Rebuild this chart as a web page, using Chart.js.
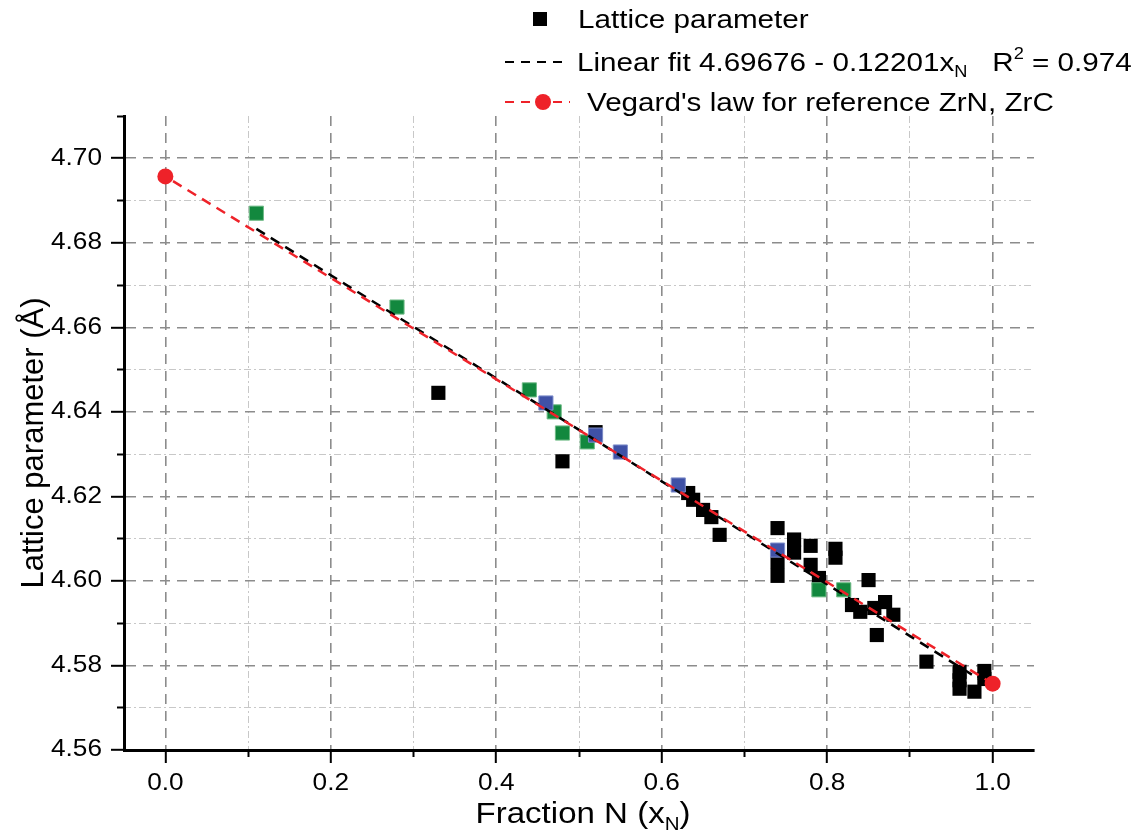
<!DOCTYPE html>
<html>
<head>
<meta charset="utf-8">
<script src="https://cdn.jsdelivr.net/npm/chart.js@4.4.0/dist/chart.umd.min.js"></script>
<style>
  html, body { margin: 0; padding: 0; background: #fff; }
</style>
</head>
<body>
<canvas id="chart" width="1139" height="834"></canvas>
<script>
// measured samples (black = lattice parameter, green / blue = other sample series)
const blackX = [0.33, 0.48, 0.52, 0.632, 0.638, 0.65, 0.66, 0.67, 0.74, 0.74, 0.74, 0.76, 0.76,
  0.78, 0.78, 0.79, 0.81, 0.81, 0.85, 0.83, 0.84, 0.857, 0.87, 0.88, 0.86, 0.92,
  0.96, 0.96, 0.96, 0.978, 0.99, 0.99];
const blackY = [4.6445, 4.6283, 4.6352, 4.6208, 4.6192, 4.6168, 4.6151, 4.6109, 4.6125, 4.6045, 4.6012, 4.6098, 4.6067,
  4.6083, 4.6038, 4.6007, 4.6076, 4.6055, 4.6002, 4.5943, 4.5927, 4.5936, 4.5950, 4.5920, 4.5872, 4.5809,
  4.5785, 4.5765, 4.5745, 4.5738, 4.5787, 4.5768];
const greenX = [0.11, 0.28, 0.44, 0.47, 0.48, 0.51, 0.79, 0.82];
const greenY = [4.6870, 4.6648, 4.6452, 4.6400, 4.6350, 4.6329, 4.5979, 4.5979];
const blueX = [0.46, 0.52, 0.55, 0.62, 0.74];
const blueY = [4.6421, 4.6345, 4.6305, 4.6227, 4.6073];

// linear fit end points and Vegard's law reference points (ZrC at 0, ZrN at 1)
const fitX = [0.11, 0.99];
const fitY = [4.6833, 4.5760];
const vegardX = [0.0, 1.0];
const vegardY = [4.6957, 4.5757];

const xMajorTicks = [0.0, 0.2, 0.4, 0.6, 0.8, 1.0];
const xMinorTicks = [0.1, 0.3, 0.5, 0.7, 0.9];
const xTickLabels = ['0.0', '0.2', '0.4', '0.6', '0.8', '1.0'];
const yMajorTicks = [4.56, 4.58, 4.60, 4.62, 4.64, 4.66, 4.68, 4.70];
const yMinorTicks = [4.57, 4.59, 4.61, 4.63, 4.65, 4.67, 4.69, 4.71];
const yTickLabels = ['4.56', '4.58', '4.60', '4.62', '4.64', '4.66', '4.68', '4.70'];

const FONT = '"Liberation Sans", Arial, sans-serif';
const SX = 1.14; // the original text is a bit wider than plain Arial

const pts = (xs, ys) => xs.map((x, i) => ({ x, y: ys[i] }));
const setTicks = list => s => { s.ticks = list.map(v => ({ value: v })); };

// draw a run of text pieces, each {t, size, dy}
function drawRuns(ctx, runs, x, y, align) {
  let total = 0;
  runs.forEach(r => {
    ctx.font = r.size + 'px ' + FONT;
    r.w = ctx.measureText(r.t).width * SX;
    total += r.w;
  });
  let cx = align === 'center' ? x - total / 2 : align === 'right' ? x - total : x;
  runs.forEach(r => {
    ctx.save();
    ctx.font = r.size + 'px ' + FONT;
    ctx.translate(cx, y + (r.dy || 0));
    ctx.scale(SX, 1);
    ctx.textAlign = 'left';
    ctx.fillText(r.t, 0, 0);
    ctx.restore();
    cx += r.w;
  });
}

const textPlugin = {
  id: 'texts',
  afterDraw(chart) {
    const ctx = chart.ctx;
    const xs = chart.scales.x, ys = chart.scales.y;
    ctx.save();
    ctx.fillStyle = '#000';
    ctx.textBaseline = 'middle';

    xMajorTicks.forEach((v, i) => {
      drawRuns(ctx, [{ t: xTickLabels[i], size: 23 }], xs.getPixelForValue(v), xs.top + 34, 'center');
    });
    yMajorTicks.forEach((v, i) => {
      drawRuns(ctx, [{ t: yTickLabels[i], size: 23 }], ys.right - 22, ys.getPixelForValue(v), 'right');
    });

    // axis titles
    ctx.textBaseline = 'alphabetic';
    drawRuns(ctx, [
      { t: 'Fraction N (x', size: 29 },
      { t: 'N', size: 18, dy: 7 },
      { t: ')', size: 29 }
    ], (chart.chartArea.left + chart.chartArea.right) / 2 + 4, 823, 'center');

    ctx.save();
    ctx.translate(43, 443);
    ctx.rotate(-Math.PI / 2);
    ctx.font = '31px ' + FONT;
    ctx.textAlign = 'center';
    ctx.fillText('Lattice parameter (\u00C5)', 0, 0);
    ctx.restore();

    // legend
    const rows = [19, 62, 102];
    ctx.fillStyle = '#000';
    ctx.fillRect(533, rows[0] - 7, 14, 14);
    drawRuns(ctx, [{ t: 'Lattice parameter', size: 26 }], 578, rows[0] + 9, 'left');

    ctx.save();
    ctx.strokeStyle = '#000';
    ctx.lineWidth = 2;
    ctx.setLineDash([9, 7]);
    ctx.beginPath();
    ctx.moveTo(505, rows[1]);
    ctx.lineTo(568, rows[1]);
    ctx.stroke();
    ctx.restore();
    drawRuns(ctx, [
      { t: 'Linear fit 4.69676 - 0.12201x', size: 26 },
      { t: 'N', size: 16, dy: 6 },
      { t: '   R', size: 26 },
      { t: '2', size: 16, dy: -12 },
      { t: ' = 0.974', size: 26 }
    ], 577, rows[1] + 9, 'left');

    ctx.save();
    ctx.strokeStyle = '#ee2229';
    ctx.fillStyle = '#ee2229';
    ctx.lineWidth = 2;
    ctx.setLineDash([9, 7]);
    ctx.beginPath();
    ctx.moveTo(505, rows[2]);
    ctx.lineTo(570, rows[2]);
    ctx.stroke();
    ctx.beginPath();
    ctx.arc(543, rows[2], 8, 0, Math.PI * 2);
    ctx.fill();
    ctx.restore();
    ctx.fillStyle = '#000';
    drawRuns(ctx, [{ t: "Vegard's law for reference ZrN, ZrC", size: 26 }], 587, rows[2] + 9, 'left');

    ctx.restore();
  }
};

new Chart(document.getElementById('chart'), {
  type: 'scatter',
  data: {
    datasets: [
      {
        label: 'Lattice parameter',
        data: pts(blackX, blackY),
        pointStyle: 'rect', pointRadius: 10, pointBorderWidth: 0,
        backgroundColor: '#000', order: 5
      },
      {
        data: pts(greenX, greenY),
        pointStyle: 'rect', pointRadius: 10, pointBorderWidth: 1,
        backgroundColor: '#12883e', borderColor: '#6fba86', order: 4
      },
      {
        data: pts(blueX, blueY),
        pointStyle: 'rect', pointRadius: 10, pointBorderWidth: 1,
        backgroundColor: '#3f51a6', borderColor: '#8190cc', order: 3
      },
      {
        label: 'Linear fit',
        data: pts(fitX, fitY),
        showLine: true, borderColor: '#000', borderWidth: 2.5, borderDash: [10, 7],
        pointRadius: 0, order: 2
      },
      {
        label: "Vegard's law",
        data: pts(vegardX, vegardY),
        showLine: true, borderColor: '#ee2229', borderWidth: 2.5, borderDash: [10, 7], borderDashOffset: 8,
        pointRadius: 8, pointBorderWidth: 0, pointBackgroundColor: '#ee2229', backgroundColor: '#ee2229', order: 1
      }
    ]
  },
  options: {
    responsive: false,
    animation: false,
    events: [],
    layout: { padding: { left: 0, right: 105, top: 116, bottom: 0 } },
    plugins: { legend: { display: false }, tooltip: { enabled: false } },
    scales: {
      x: {
        type: 'linear', position: 'bottom', weight: 10, min: -0.05, max: 1.05,
        afterBuildTicks: setTicks(xMajorTicks),
        afterFit: s => { s.height = 84; },
        ticks: { display: false },
        grid: { color: '#8c8c8c', lineWidth: 1.6, tickLength: 13, tickWidth: 2, tickColor: '#000' },
        border: { color: '#000', width: 3, dash: [10, 7], z: 1 }
      },
      x2: {
        type: 'linear', position: 'bottom', weight: 0, min: -0.05, max: 1.05,
        afterBuildTicks: setTicks(xMinorTicks),
        afterFit: s => { s.height = 0; },
        ticks: { display: false },
        grid: { color: '#c8c8c8', lineWidth: 1, tickLength: 7, tickWidth: 2, tickColor: '#000' },
        border: { display: false, dash: [7, 3, 2, 3] }
      },
      y: {
        type: 'linear', position: 'left', weight: 10, min: 4.56, max: 4.71,
        afterBuildTicks: setTicks(yMajorTicks),
        afterFit: s => { s.width = 124; },
        ticks: { display: false },
        grid: { color: '#8c8c8c', lineWidth: 1.6, tickLength: 13, tickWidth: 2, tickColor: '#000' },
        border: { color: '#000', width: 3, dash: [10, 7], z: 1 }
      },
      y2: {
        type: 'linear', position: 'left', weight: 0, min: 4.56, max: 4.71,
        afterBuildTicks: setTicks(yMinorTicks),
        afterFit: s => { s.width = 0; },
        ticks: { display: false },
        grid: {
          color: c => (c.tick && c.tick.value > 4.705 ? 'rgba(0,0,0,0)' : '#c8c8c8'),
          lineWidth: 1, tickLength: 7, tickWidth: 2, tickColor: '#000'
        },
        border: { display: false, dash: [7, 3, 2, 3] }
      }
    }
  },
  plugins: [textPlugin]
});
</script>
</body>
</html>
